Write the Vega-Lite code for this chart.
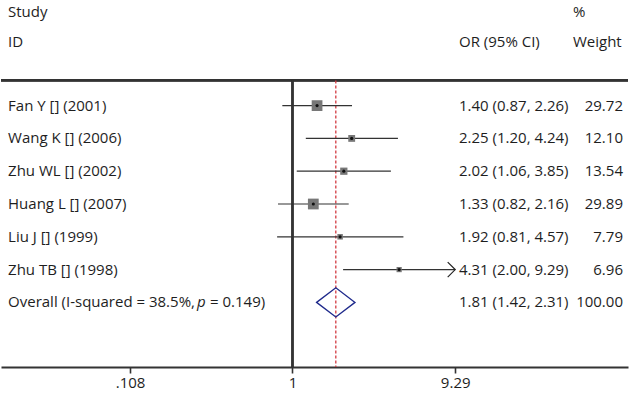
{
  "$schema": "https://vega.github.io/schema/vega-lite/v6.json",
  "width": 627,
  "height": 367,
  "padding": 0,
  "autosize": {"type": "pad"},
  "background": "white",
  "config": {
    "view": {"stroke": null},
    "font": "Open Sans",
    "text": {"font": "Open Sans", "fontSize": 15, "color": "#1e1e1e", "baseline": "middle"},
    "axisY": {"disable": true}
  },
  "datasets": {
    "studies": [
      {"study": "Fan Y [] (2001)", "or": 1.40, "lo": 0.87, "hi": 2.26, "weight": 29.72, "row": 1, "overall": false},
      {"study": "Wang K [] (2006)", "or": 2.25, "lo": 1.20, "hi": 4.24, "weight": 12.10, "row": 2, "overall": false},
      {"study": "Zhu WL [] (2002)", "or": 2.02, "lo": 1.06, "hi": 3.85, "weight": 13.54, "row": 3, "overall": false},
      {"study": "Huang L [] (2007)", "or": 1.33, "lo": 0.82, "hi": 2.16, "weight": 29.89, "row": 4, "overall": false},
      {"study": "Liu J [] (1999)", "or": 1.92, "lo": 0.81, "hi": 4.57, "weight": 7.79, "row": 5, "overall": false},
      {"study": "Zhu TB [] (1998)", "or": 4.31, "lo": 2.00, "hi": 9.29, "weight": 6.96, "row": 6, "overall": false},
      {"study": "Overall", "or": 1.81, "lo": 1.42, "hi": 2.31, "weight": 100.00, "row": 7, "overall": true, "i2": 38.5, "p": 0.149}
    ]
  },
  "data": {"name": "studies"},
  "layer": [
    {
      "mark": {"type": "rule", "color": "#333333", "strokeWidth": 1.6},
      "encoding": {
        "x": {"datum": 0.01844, "type": "quantitative",
              "scale": {"type": "log", "domain": [0.01844, 99.1], "nice": false, "zero": false},
              "axis": {"title": null, "values": [0.108, 1, 9.29], "grid": false,
                       "labelExpr": "datum.value < 0.5 ? '.108' : (datum.value < 2 ? '1' : '9.29')",
                       "domainColor": "#333333", "domainWidth": 1.8, "tickColor": "#333333", "tickWidth": 1.6, "tickSize": 6,
                       "labelFont": "Open Sans", "labelFontSize": 15, "labelColor": "#1e1e1e", "labelPadding": 2, "labelFlush": false, "labelOverlap": false}},
        "x2": {"datum": 99.1},
        "y": {"datum": 0.232, "type": "quantitative", "scale": {"domain": [-2.22, 8.97], "reverse": true, "nice": false, "zero": false}}
      }
    },
    {
      "mark": {"type": "rule", "color": "#333333", "strokeWidth": 1.6},
      "encoding": {
        "x": {"datum": 1, "type": "quantitative"},
        "y": {"datum": 0.232, "type": "quantitative"},
        "y2": {"datum": 8.97}
      }
    },
    {
      "mark": {"type": "rule", "color": "#d23a42", "strokeWidth": 1.3, "strokeDash": [3, 2]},
      "transform": [{"filter": "datum.overall"}],
      "encoding": {
        "x": {"field": "or", "type": "quantitative"},
        "y": {"datum": 0.232, "type": "quantitative"},
        "y2": {"datum": 8.97}
      }
    },
    {
      "mark": {"type": "rule", "color": "#333333", "strokeWidth": 1.2},
      "transform": [{"filter": "!datum.overall"}],
      "encoding": {
        "x": {"field": "lo", "type": "quantitative"},
        "x2": {"field": "hi"},
        "y": {"field": "row", "type": "quantitative"}
      }
    },
    {
      "mark": {"type": "point", "shape": "square", "filled": true, "color": "#777777", "opacity": 1},
      "transform": [{"filter": "!datum.overall"}],
      "encoding": {
        "x": {"field": "or", "type": "quantitative"},
        "y": {"field": "row", "type": "quantitative"},
        "size": {"field": "weight", "type": "quantitative", "legend": null,
                 "scale": {"type": "linear", "zero": true, "domain": [0, 29.89], "range": [0, 116]}}
      }
    },
    {
      "mark": {"type": "point", "shape": "circle", "filled": true, "color": "#111111", "size": 10, "opacity": 1},
      "transform": [{"filter": "!datum.overall"}],
      "encoding": {
        "x": {"field": "or", "type": "quantitative"},
        "y": {"field": "row", "type": "quantitative"}
      }
    },
    {
      "mark": {"type": "point", "shape": "M-1,0L0,-0.76L1,0L0,0.76Z", "filled": false, "color": "#1f2a8c", "strokeWidth": 1.3, "size": 1475, "opacity": 1},
      "transform": [{"filter": "datum.overall"}],
      "encoding": {
        "x": {"field": "or", "type": "quantitative"},
        "y": {"field": "row", "type": "quantitative"}
      }
    },
    {
      "mark": {"type": "point", "shape": "M-1,-1L0,0L-1,1", "filled": false, "color": "#222222", "strokeWidth": 1.2, "size": 225, "opacity": 1},
      "transform": [{"filter": "datum.hi >= 9.29"}],
      "encoding": {
        "x": {"field": "hi", "type": "quantitative"},
        "y": {"field": "row", "type": "quantitative"}
      }
    },
    {
      "mark": {"type": "text", "align": "left"},
      "transform": [{"filter": "!datum.overall"}],
      "encoding": {
        "x": {"datum": 0.02031, "type": "quantitative"},
        "y": {"field": "row", "type": "quantitative"},
        "text": {"field": "study"}
      }
    },
    {
      "mark": {"type": "text", "align": "left"},
      "transform": [{"filter": "datum.overall"}, {"calculate": "datum.study + ' (I-squared = ' + format(datum.i2, '.1f') + '%,'", "as": "part1"}],
      "encoding": {
        "x": {"datum": 0.02031, "type": "quantitative"},
        "y": {"field": "row", "type": "quantitative"},
        "text": {"field": "part1"}
      }
    },
    {
      "mark": {"type": "text", "align": "left", "fontStyle": "italic", "dx": 189},
      "transform": [{"filter": "datum.overall"}],
      "encoding": {
        "x": {"datum": 0.02031, "type": "quantitative"},
        "y": {"field": "row", "type": "quantitative"},
        "text": {"value": "p"}
      }
    },
    {
      "mark": {"type": "text", "align": "left", "dx": 202},
      "transform": [{"filter": "datum.overall"}, {"calculate": "'= ' + format(datum.p, '.3f') + ')'", "as": "part3"}],
      "encoding": {
        "x": {"datum": 0.02031, "type": "quantitative"},
        "y": {"field": "row", "type": "quantitative"},
        "text": {"field": "part3"}
      }
    },
    {
      "mark": {"type": "text", "align": "left"},
      "transform": [{"calculate": "format(datum.or, '.2f') + ' (' + format(datum.lo, '.2f') + ', ' + format(datum.hi, '.2f') + ')'", "as": "ci"}],
      "encoding": {
        "x": {"datum": 9.786, "type": "quantitative"},
        "y": {"field": "row", "type": "quantitative"},
        "text": {"field": "ci"}
      }
    },
    {
      "mark": {"type": "text", "align": "right"},
      "encoding": {
        "x": {"datum": 92.5, "type": "quantitative"},
        "y": {"field": "row", "type": "quantitative"},
        "text": {"field": "weight", "format": ".2f"}
      }
    },
    {
      "data": {"values": [
        {"text": "Study", "col": "left", "hrow": -1.855},
        {"text": "ID", "col": "left", "hrow": -0.94},
        {"text": "%", "col": "weight", "hrow": -1.855},
        {"text": "Weight", "col": "weight", "hrow": -0.94},
        {"text": "OR (95% CI)", "col": "or", "hrow": -0.94}
      ]},
      "layer": [
        {
          "transform": [{"filter": "datum.col == 'left'"}],
          "mark": {"type": "text", "align": "left"},
          "encoding": {
            "x": {"datum": 0.02031, "type": "quantitative"},
            "y": {"field": "hrow", "type": "quantitative"},
            "text": {"field": "text"}
          }
        },
        {
          "transform": [{"filter": "datum.col == 'or'"}],
          "mark": {"type": "text", "align": "left"},
          "encoding": {
            "x": {"datum": 9.786, "type": "quantitative"},
            "y": {"field": "hrow", "type": "quantitative"},
            "text": {"field": "text"}
          }
        },
        {
          "transform": [{"filter": "datum.col == 'weight'"}],
          "mark": {"type": "text", "align": "left"},
          "encoding": {
            "x": {"datum": 46.63, "type": "quantitative"},
            "y": {"field": "hrow", "type": "quantitative"},
            "text": {"field": "text"}
          }
        }
      ]
    }
  ]
}
